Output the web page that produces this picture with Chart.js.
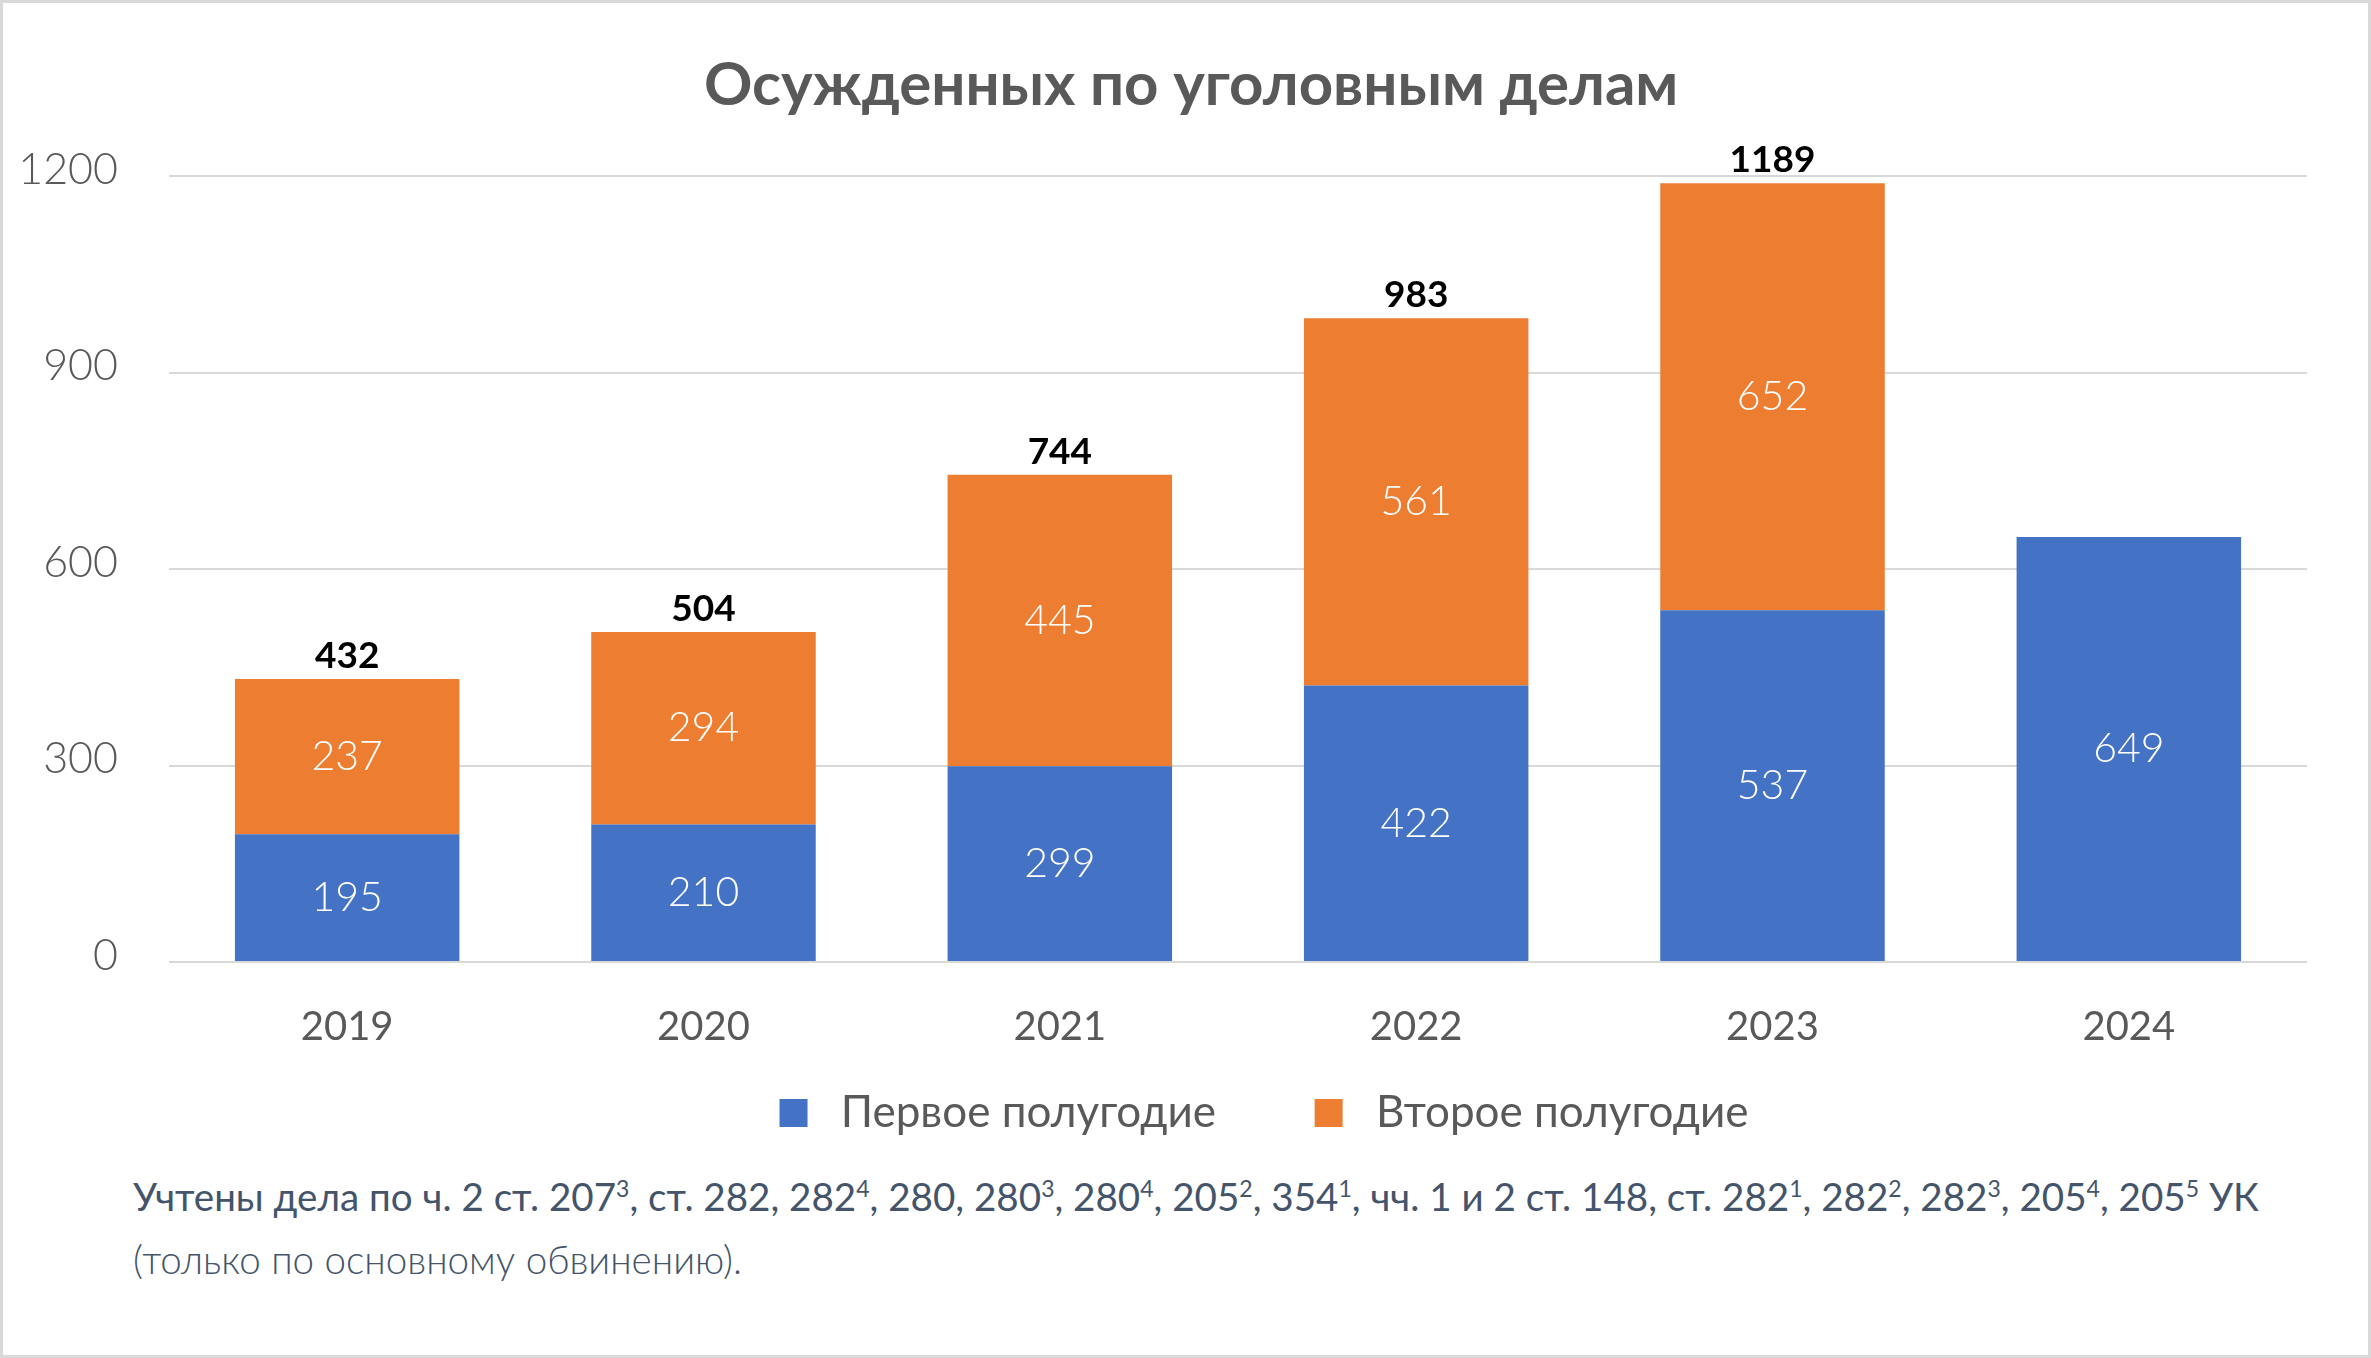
<!DOCTYPE html>
<html>
<head>
<meta charset="utf-8">
<script src="https://cdn.jsdelivr.net/npm/chart.js@4.4.1/dist/chart.umd.min.js"></script>
<style>
  html, body { margin: 0; padding: 0; background: #fff; }
  #frame { position: relative; width: 2371px; height: 1358px; box-sizing: border-box; border: 3px solid #d9d9d9; overflow: hidden; }
  #wrap { position: absolute; left: 0; top: 0; width: 2365px; height: 1152px; }
  #note { position: absolute; left: 130px; top: 1162px; font-family: Lato, sans-serif; font-size: 38.6px; line-height: 63px; color: #44546a; }
  #note sup { font-size: 23px; vertical-align: 14px; line-height: 0; }
  #note .light { font-weight: 300; }
</style>
</head>
<body>
<div id="frame">
  <div id="wrap"><canvas id="myChart"></canvas></div>
  <div id="note">Учтены дела по ч. 2 ст. 207<sup>3</sup>, ст. 282, 282<sup>4</sup>, 280, 280<sup>3</sup>, 280<sup>4</sup>, 205<sup>2</sup>, 354<sup>1</sup>, чч. 1 и 2 ст. 148, ст. 282<sup>1</sup>, 282<sup>2</sup>, 282<sup>3</sup>, 205<sup>4</sup>, 205<sup>5</sup> УК<br><span class="light">(только по основному обвинению).</span></div>
</div>
<script>
var years = ["2019", "2020", "2021", "2022", "2023", "2024"]
var firstHalf = [195, 210, 299, 422, 537, 649]
var secondHalf = [237, 294, 445, 561, 652, null]
var yTicks = [0, 300, 600, 900, 1200]

var FONT = "Lato, 'Open Sans', sans-serif"
var GREY = "#595959"

// labels inside the segments and totals above the stacks
var labelsPlugin = {
  id: "barLabels",
  afterLayout: function(chart){
    // legend sits a little right of centre in the original
    chart.legend.left += 102
    chart.legend.right += 102
  },
  afterDatasetsDraw: function(chart){
    var ctx = chart.ctx
    ctx.save()
    ctx.textAlign = "center"
    ctx.textBaseline = "middle"
    ctx.fillStyle = "#ffffff"
    ctx.font = "300 41px " + FONT
    chart.data.datasets.forEach(function(ds, i){
      var meta = chart.getDatasetMeta(i)
      meta.data.forEach(function(bar, k){
        if (ds.data[k] == null) return
        ctx.fillText(String(ds.data[k]), bar.x, (bar.y + bar.base) / 2)
      })
    })
    var yScale = chart.scales.y
    var meta0 = chart.getDatasetMeta(0)
    ctx.fillStyle = "#000000"
    ctx.font = "bold 37px " + FONT
    years.forEach(function(y, k){
      if (secondHalf[k] == null) return
      var total = firstHalf[k] + secondHalf[k]
      ctx.fillText(String(total), meta0.data[k].x, yScale.getPixelForValue(total) - 23)
    })
    ctx.restore()
  }
}

var ctx = document.getElementById("myChart")
var myChart = new Chart(ctx, {
  type: "bar",
  data: {
    labels: years,
    datasets: [{
      label: "Первое полугодие",
      data: firstHalf,
      backgroundColor: "#4472c4"
    }, {
      label: "Второе полугодие",
      data: secondHalf,
      backgroundColor: "#ed7d31"
    }]
  },
  options: {
    responsive: true,
    maintainAspectRatio: false,
    animation: false,
    devicePixelRatio: 1,
    layout: { padding: { left: 14, right: 61, top: 47, bottom: 10 } },
    datasets: { bar: { barPercentage: 0.63, categoryPercentage: 1 } },
    plugins: {
      title: {
        display: true,
        text: "    Осужденных по уголовным делам",
        color: GREY,
        font: { family: FONT, size: 60, weight: "bold" },
        padding: { top: 0, bottom: 54 }
      },
      legend: {
        position: "bottom",
        labels: {
          color: GREY,
          font: { family: FONT, size: 44 },
          boxWidth: 28,
          boxHeight: 28,
          padding: 10,
          generateLabels: function(chart){
            var items = Chart.defaults.plugins.legend.labels.generateLabels(chart)
            items.forEach(function(it, i){
              it.text = " " + it.text + (i === 0 ? "\u2003\u2003  " : "")
            })
            return items
          }
        }
      },
      tooltip: { enabled: false }
    },
    scales: {
      x: {
        stacked: true,
        grid: { display: false, drawTicks: false },
        border: { display: false },
        ticks: { color: GREY, font: { family: FONT, size: 40 }, padding: 41 },
        afterFit: function(axis){ axis.height -= 11 }
      },
      y: {
        stacked: true,
        min: 0,
        max: 1200,
        afterBuildTicks: function(axis){
          axis.ticks = yTicks.map(function(v){ return { value: v } })
        },
        afterFit: function(axis){ axis.width = 152 },
        grid: { color: "#d9d9d9", lineWidth: 2, drawTicks: false },
        border: { display: false },
        ticks: {
          color: GREY,
          font: { family: FONT, size: 43, weight: 300 },
          padding: 51,
          labelOffset: -6,
          callback: function(v){ return String(v) }
        }
      }
    }
  },
  plugins: [labelsPlugin]
})
</script>
</body>
</html>
